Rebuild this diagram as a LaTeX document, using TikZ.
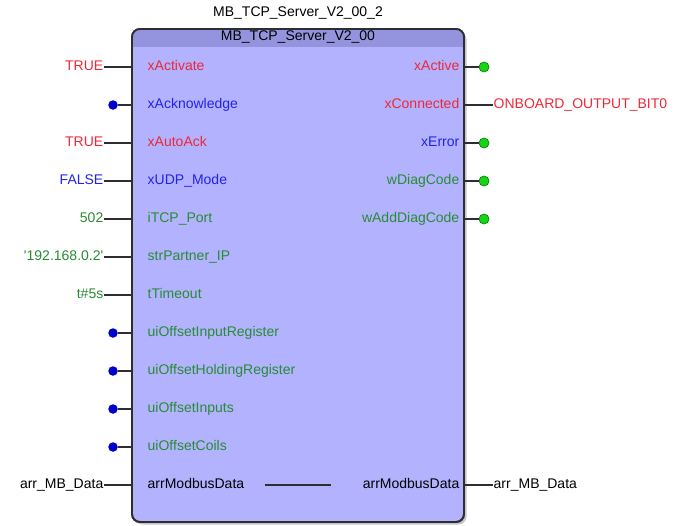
\documentclass[tikz,border=0pt]{standalone}
\usepackage{fontspec}
\setmainfont{Liberation Sans}
\usepackage{xcolor}
\usepackage{tikz}
\usetikzlibrary{shadows}

\definecolor{fbfill}{RGB}{178,178,255}
\definecolor{fbhead}{RGB}{148,148,222}
\definecolor{fbline}{RGB}{45,45,50}
\definecolor{fbred}{RGB}{238,40,55}
\definecolor{fbblue}{RGB}{35,35,235}
\definecolor{fbgreen}{RGB}{40,140,50}
\definecolor{dotblue}{RGB}{0,0,205}
\definecolor{dotgreen}{RGB}{20,215,20}

\begin{document}
\begin{tikzpicture}[x=1pt,y=-1pt,line width=1.4pt,
    every node/.style={font=\fontsize{14}{16}\selectfont, inner sep=0pt, text height=10pt, text depth=3pt},
    fbbox/.style={draw=fbline, fill=fbfill, line width=1.8pt, rounded corners=8pt, outer sep=0pt,
                  minimum width=332pt, minimum height=493pt,
                  drop shadow={shadow xshift=2.5pt, shadow yshift=-2.5pt, opacity=0.45}},
    pinval/.style={anchor=east},
    inname/.style={anchor=west},
    outname/.style={anchor=east},
    outval/.style={anchor=west},
    indot/.style={circle, fill=dotblue, text height=0pt, text depth=0pt, minimum size=9.5pt},
    outdot/.style={circle, fill=dotgreen, draw=green!45!black, line width=0.6pt, text height=0pt, text depth=0pt, minimum size=10pt}
  ]

    \useasboundingbox (0,0) rectangle (677,525);

    % function block
    \node[fbbox] (blk) at (298,275.5) {};
    \begin{scope}
      \clip[rounded corners=8pt] (blk.north west) rectangle (blk.south east);
      \fill[fbhead] (blk.north west) rectangle ([yshift=-18pt]blk.north east);
    \end{scope}
    \draw[fbline, line width=1.8pt, rounded corners=8pt] (blk.north west) rectangle (blk.south east);

    \node (inst) at (298,13) {MB\_TCP\_Server\_V2\_00\_2};
    \node (type) at (298,37) {MB\_TCP\_Server\_V2\_00};

    % inputs
    \foreach \i/\pin/\pc/\val/\vc in {
        1/xActivate/fbred/TRUE/fbred,
        2/xAcknowledge/fbblue//,
        3/xAutoAck/fbred/TRUE/fbred,
        4/xUDP\_Mode/fbblue/FALSE/fbblue,
        5/iTCP\_Port/fbgreen/502/fbgreen,
        6/strPartner\_IP/fbgreen/\textquotesingle192.168.0.2\textquotesingle/fbgreen,
        7/tTimeout/fbgreen/t\#5s/fbgreen,
        8/uiOffsetInputRegister/fbgreen//,
        9/uiOffsetHoldingRegister/fbgreen//,
        10/uiOffsetInputs/fbgreen//,
        11/uiOffsetCoils/fbgreen//,
        12/arrModbusData/black/arr\_MB\_Data/black}
    {
      \node[inname, text=\pc] (in\i) at (147,29+38*\i) {\pin};
      \ifx\val\empty
        \node[indot] (src\i) at (113,29+38*\i) {};
      \else
        \node[pinval, text=\vc] (src\i) at (104,29+38*\i) {\val};
      \fi
      \draw[fbline] (src\i) -- (blk.west |- src\i);
    }

    % outputs
    \foreach \i/\pin/\pc/\val/\vc in {
        1/xActive/fbred//,
        2/xConnected/fbred/ONBOARD\_OUTPUT\_BIT0/fbred,
        3/xError/fbblue//,
        4/wDiagCode/fbgreen//,
        5/wAddDiagCode/fbgreen//,
        12/arrModbusData/black/arr\_MB\_Data/black}
    {
      \node[outname, text=\pc] (out\i) at (460,29+38*\i) {\pin};
      \ifx\val\empty
        \node[outdot] (dst\i) at (484,29+38*\i) {};
      \else
        \node[outval, text=\vc] (dst\i) at (493,29+38*\i) {\val};
      \fi
      \draw[fbline] (blk.east |- dst\i) -- (dst\i);
    }

    % in/out pass-through
    \draw[fbline] ([xshift=20pt]in12.east) -- ([xshift=-31pt]out12.west);

\end{tikzpicture}
\end{document}
